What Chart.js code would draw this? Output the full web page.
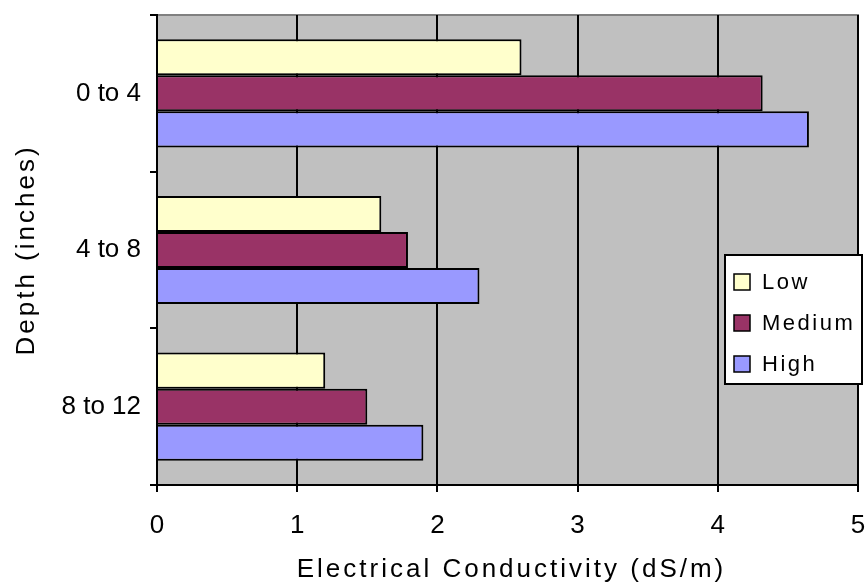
<!DOCTYPE html>
<html>
<head>
<meta charset="utf-8">
<script src="https://cdn.jsdelivr.net/npm/chart.js@4/dist/chart.umd.min.js"></script>
<style>
  html,body{margin:0;padding:0;background:#fff}
  #wrap{width:868px;height:588px;position:relative}
</style>
</head>
<body>
<div id="wrap"><canvas id="c" width="868" height="588"></canvas></div>
<script>
// données
const depths = ['0 to 4', '4 to 8', '8 to 12'];
const low = [2.6, 1.6, 1.2];
const medium = [4.32, 1.79, 1.5];
const high = [4.65, 2.3, 1.9];
const xTicks = [0, 1, 2, 3, 4, 5];
const xTitle = 'Electrical Conductivity (dS/m)';
const yTitle = 'Depth (inches)';

const FONT = '"Liberation Sans", Arial, sans-serif';

// fond gris + cadre haut/droite
const plotBg = {
  id: 'plotBg',
  beforeDraw(chart){
    const {ctx, chartArea:a} = chart;
    ctx.save();
    ctx.fillStyle = '#c0c0c0';
    ctx.fillRect(a.left, a.top, a.right - a.left, a.bottom - a.top);
    ctx.strokeStyle = '#808080'; ctx.lineWidth = 2;
    ctx.beginPath();
    ctx.moveTo(a.left, a.top); ctx.lineTo(a.right, a.top); ctx.lineTo(a.right, a.bottom);
    ctx.stroke();
    ctx.restore();
  }
};

// titres d'axes (espacement des lettres comme l'original)
const axisTitles = {
  id: 'axisTitles',
  afterDraw(chart){
    const {ctx, chartArea:a} = chart;
    ctx.save();
    ctx.fillStyle = '#000';
    ctx.font = '26px ' + FONT;
    ctx.letterSpacing = '3px';
    ctx.textAlign = 'center'; ctx.textBaseline = 'middle';
    ctx.fillText(xTitle, (a.left + a.right) / 2 + 4, 570);
    ctx.translate(27, 250);
    ctx.rotate(-Math.PI / 2);
    ctx.fillText(yTitle, 0, 0);
    ctx.restore();
  }
};

// légende encadrée dans la zone du graphique
const boxLegend = {
  id: 'boxLegend',
  afterDraw(chart){
    const {ctx, chartArea:a} = chart;
    const x = a.right - 133, y = a.top + 240, w = 137, h = 129;
    ctx.save();
    ctx.fillStyle = '#fff'; ctx.fillRect(x, y, w, h);
    ctx.strokeStyle = '#000'; ctx.lineWidth = 2; ctx.strokeRect(x, y, w, h);
    ctx.font = '22px ' + FONT; ctx.letterSpacing = '2.5px'; ctx.textBaseline = 'middle';
    chart.data.datasets.forEach((ds, i) => {
      const cy = y + 27 + i * 41;
      ctx.fillStyle = ds.backgroundColor;
      ctx.fillRect(x + 9, cy - 8, 16, 16);
      ctx.lineWidth = 1.5; ctx.strokeStyle = '#000';
      ctx.strokeRect(x + 9, cy - 8, 16, 16);
      ctx.fillStyle = '#000';
      ctx.fillText(ds.label, x + 37, cy + 1);
    });
    ctx.restore();
  }
};

const mk = (label, data, color) => ({
  label, data, backgroundColor: color, borderColor: '#000', borderWidth: 2,
  categoryPercentage: 0.69, barPercentage: 1
});

new Chart(document.getElementById('c'), {
  type: 'bar',
  data: {
    labels: depths,
    datasets: [
      mk('Low', low, '#ffffcc'),
      mk('Medium', medium, '#993366'),
      mk('High', high, '#9999ff')
    ]
  },
  options: {
    responsive: false,
    animation: false,
    indexAxis: 'y',
    layout: { padding: { top: 15, right: 10, left: 0, bottom: 0 } },
    plugins: { legend: { display: false }, tooltip: { enabled: false } },
    scales: {
      x: {
        min: 0, max: 5,
        afterBuildTicks: s => { s.ticks = xTicks.map(v => ({ value: v })); },
        afterFit: s => { s.height = 103; s.paddingLeft = 0; s.paddingRight = 0; },
        grid: { color: '#000', lineWidth: 2, tickLength: 7, drawOnChartArea: true },
        border: { color: '#000', width: 2 },
        ticks: { color: '#000', font: { family: FONT, size: 26 }, padding: 18 },
        title: { display: false }
      },
      y: {
        afterFit: s => { s.width = 157; s.paddingTop = 0; s.paddingBottom = 0; },
        grid: { offset: true, drawOnChartArea: false, color: '#000', lineWidth: 2, tickLength: 7 },
        border: { color: '#000', width: 2 },
        ticks: { color: '#000', font: { family: FONT, size: 26 }, padding: 9 },
        title: { display: false }
      }
    }
  },
  plugins: [plotBg, axisTitles, boxLegend]
});
</script>
</body>
</html>
